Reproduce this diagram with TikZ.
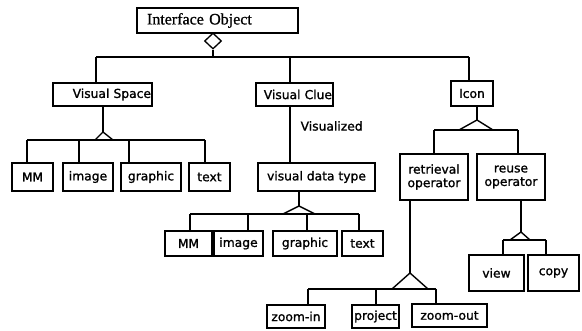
\documentclass[tikz,border=0pt]{standalone}
\usepackage{fontspec}
\setmainfont{DejaVu Sans}[FakeBold=1.2]
\newfontfamily\serifio{Liberation Serif}[FakeBold=0.8]
\usetikzlibrary{shapes.geometric}
\begin{document}
\begin{tikzpicture}[x=1pt,y=-1pt,
  every path/.style={line width=1.3pt},
  box/.style={draw, line width=1.3pt, inner sep=1pt, font=\fontsize{12.3}{13.5}\selectfont, align=center},
  lbl/.style={font=\fontsize{12.3}{13.5}\selectfont, inner sep=0pt},
  tri/.style={draw, line width=1.4pt, line join=miter}]
\useasboundingbox (0,0) rectangle (582,331);
\fill[white] (0,0) rectangle (582,331);

% root
\node[draw, line width=1.3pt, minimum height=25, text width=141, inner xsep=10, inner ysep=0, align=left,
      font=\serifio\fontsize{16}{18}\selectfont] (io) at (217.5,20.5) {Interface Object};
\node[draw, diamond, line width=1.3pt, minimum width=17, minimum height=16, inner sep=0, fill=white] (dm) at (213,41) {};

% level 1
\node[box, minimum height=23, text width=97, align=right] (vs) at (102.5,94.5) {Visual Space};
\node[box, minimum height=23, text width=75, align=right] (vc) at (294.5,94.5) {Visual Clue};
\node[box, minimum height=25, minimum width=42] (ic) at (472,93.5) {Icon};

\coordinate (b0L) at (96,57);
\coordinate (b0R) at (469,57);
\coordinate (b0M) at (290,57);
\draw (dm.south) -- (dm.south |- b0L);
\draw (b0L) -- (b0R);
\draw (b0L) -- (b0L |- vs.north);
\draw (b0M) -- (b0M |- vc.north);
\draw (b0R) -- (b0R |- ic.north);

% Visual Space children
\node[box, minimum width=41, minimum height=28] (mmA) at (32.5,177) {MM};
\node[box, minimum width=50, minimum height=28] (imA) at (88,177) {image};
\node[box, minimum width=60, minimum height=28] (grA) at (151,177) {graphic};
\node[box, minimum width=41, minimum height=28] (txA) at (209.5,177) {text};
\coordinate (t1) at (103,132);
\coordinate (t1L) at (95,140);
\coordinate (t1R) at (113,140);
\draw (t1 |- vs.south) -- (t1);
\draw[tri] (t1) -- (t1L) -- (t1R) -- cycle;
\coordinate (p1a) at (27,140);
\coordinate (p1b) at (79,140);
\coordinate (p1c) at (129,140);
\coordinate (p1d) at (205,140);
\draw (p1a) -- (p1d);
\draw (p1a) -- (p1a |- mmA.north);
\draw (p1b) -- (p1b |- imA.north);
\draw (p1c) -- (p1c |- grA.north);
\draw (p1d) -- (p1d |- txA.north);

% Visual Clue subtree
\node[box, minimum width=117, minimum height=28] (vdt) at (316.5,177) {visual data type};
\coordinate (vcx) at (290,106);
\draw (vcx) -- (vcx |- vdt.north);
\node[lbl, anchor=west] (vlz) at (300,126) {Visualized};

\node[box, minimum width=47, minimum height=25] (mmB) at (188.5,243.5) {MM};
\node[box, minimum width=49, minimum height=25] (imB) at (238.5,243.5) {image};
\node[box, minimum width=64, minimum height=25] (grB) at (305,243.5) {graphic};
\node[box, minimum width=41, minimum height=25] (txB) at (362.5,243.5) {text};
\coordinate (t2) at (299,206);
\coordinate (t2L) at (283,214);
\coordinate (t2R) at (315,214);
\draw (t2 |- vdt.south) -- (t2);
\draw[tri] (t2) -- (t2L) -- (t2R) -- cycle;
\coordinate (p2a) at (190,214);
\coordinate (p2b) at (248,214);
\coordinate (p2c) at (307,214);
\coordinate (p2d) at (359,214);
\draw (p2a) -- (p2d);
\draw (p2a) -- (p2a |- mmB.north);
\draw (p2b) -- (p2b |- imB.north);
\draw (p2c) -- (p2c |- grB.north);
\draw (p2d) -- (p2d |- txB.north);

% Icon subtree
\node[box, minimum width=68, minimum height=46] (ret) at (434,177) {retrieval\\operator};
\node[box, minimum width=68, minimum height=46] (reu) at (511,177) {reuse\\operator};
\coordinate (t3) at (477,120);
\coordinate (t3L) at (459,130);
\coordinate (t3R) at (493,130);
\draw (t3 |- ic.south) -- (t3);
\draw[tri] (t3) -- (t3L) -- (t3R) -- cycle;
\coordinate (p3a) at (434,130);
\coordinate (p3b) at (518,130);
\draw (p3a) -- (p3b);
\draw (p3a) -- (p3a |- ret.north);
\draw (p3b) -- (p3b |- reu.north);

% retrieval children
\node[box, minimum width=58, minimum height=23] (zi) at (296,316.5) {zoom-in};
\node[box, minimum width=47, minimum height=23] (pj) at (375.5,316.5) {project};
\node[box, minimum width=75, minimum height=23] (zo) at (449.5,315.5) {zoom-out};
\coordinate (t4) at (410,273);
\coordinate (t4L) at (392,289);
\coordinate (t4R) at (428,289);
\draw (t4 |- ret.south) -- (t4);
\draw[tri] (t4) -- (t4L) -- (t4R) -- cycle;
\coordinate (p4a) at (308,289);
\coordinate (p4b) at (376,289);
\coordinate (p4c) at (436,289);
\draw (p4a) -- (p4c);
\draw (p4a) -- (p4a |- zi.north);
\draw (p4b) -- (p4b |- pj.north);
\draw (p4c) -- (p4c |- zo.north);

% reuse children
\node[box, minimum width=55, minimum height=36] (vw) at (496.5,273) {view};
\node[box, minimum width=51, minimum height=36] (cp) at (553.5,273) {copy};
\coordinate (t5) at (521,232);
\coordinate (t5L) at (510,240);
\coordinate (t5R) at (530,240);
\draw (t5 |- reu.south) -- (t5);
\draw[tri] (t5) -- (t5L) -- (t5R) -- cycle;
\coordinate (p5a) at (503,240);
\coordinate (p5b) at (546,240);
\draw (p5a) -- (p5b);
\draw (p5a) -- (p5a |- vw.north);
\draw (p5b) -- (p5b |- cp.north);
\end{tikzpicture}
\end{document}
